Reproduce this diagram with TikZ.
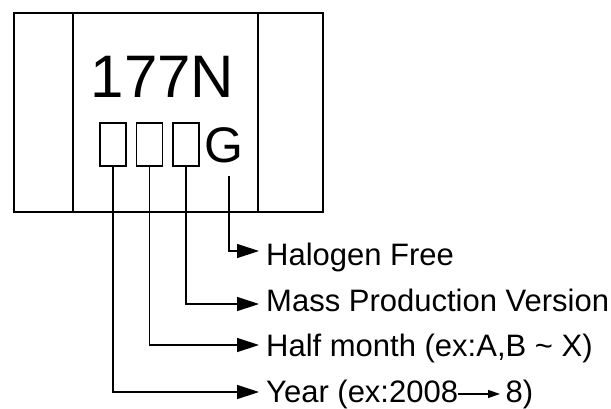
\documentclass[tikz,border=0pt]{standalone}
\usepackage{fontspec}
\setmainfont{Liberation Sans}
\usetikzlibrary{arrows.meta}
\begin{document}
\begin{tikzpicture}[x=1pt,y=-1pt,
  frame/.style={line width=2pt},
  digitbox/.style={draw,line width=1.3pt,minimum width=26pt,minimum height=43pt,inner sep=0pt},
  conn/.style={line width=1.3pt,-{Triangle[length=22pt,width=14pt]}},
  smallarr/.style={line width=1.3pt,-{Triangle[length=12pt,width=8pt]}},
  label/.style={anchor=base west,inner sep=0pt,font=\fontsize{31}{37}\selectfont}]
\useasboundingbox (0,0) rectangle (611,408);
% package outline
\draw[frame] (14,13) rectangle (323,212);
\draw[frame] (73,13) -- (73,212);
\draw[frame] (258,13) -- (258,212);
% marking
\node[anchor=base west,inner sep=0pt,font=\fontsize{60}{72}\selectfont] (code) at (90.5,97) {177N};
\node[digitbox] (b1) at (113,144.5) {};
\node[digitbox] (b2) at (149.5,144.5) {};
\node[digitbox] (b3) at (186,144.5) {};
\node[anchor=base west,inner sep=0pt,font=\fontsize{50}{60}\selectfont] (g) at (204.6,162) {G};
\coordinate (gl) at (229,176);
% arrow end points
\coordinate (tH) at (259,251);
\coordinate (tM) at (259,304);
\coordinate (tF) at (259,345);
\coordinate (tY) at (259,392);
% connectors
\draw[conn] (gl) |- (tH);
\draw[conn] (b3.south) |- (tM);
\draw[conn] (b2.south) |- (tF);
\draw[conn] (b1.south) |- (tY);
% labels
\node[label] (lH) at (266,265) {Halogen Free};
\node[label] (lM) at (266,311) {Mass Production Version};
\node[label] (lF) at (266,356) {Half month (ex:A,B \char`\~{} X)};
\node[label] (lY) at (266,402) {Year (ex:2008};
\node[label] (lY2) at (505.5,402) {8)};
\draw[smallarr] (lY.east) -- (lY2.west -| 500,0);
\end{tikzpicture}
\end{document}
